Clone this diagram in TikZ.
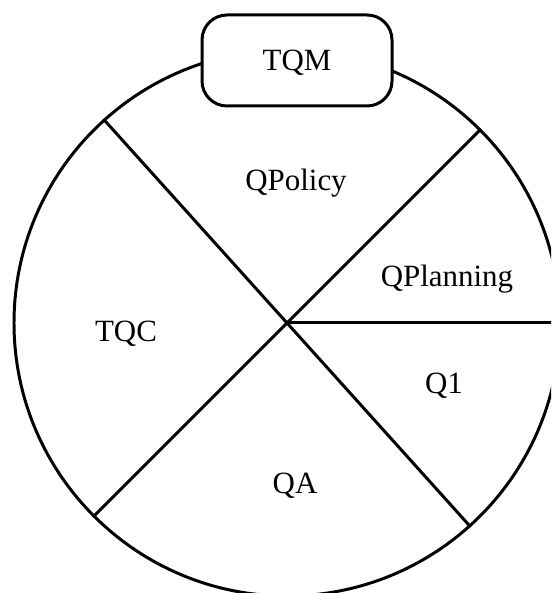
\documentclass[tikz,border=0pt]{standalone}
\usepackage{fontspec}
\setmainfont{Liberation Serif}
\usepackage{tikz}

\begin{document}
\begin{tikzpicture}[line width=.85pt,
    lbl/.style={font=\fontsize{8.8}{10}\selectfont, text height=5.8pt, text depth=0pt, inner sep=0pt}]
    \useasboundingbox (0,0) rectangle (5.51,5.93);
    \clip (0,0) rectangle (5.51,5.93);

    \coordinate (c) at (2.87,2.70);
    \node[draw,circle,minimum size=5.46cm,inner sep=0pt] (wheel) at (c) {};
    \draw (wheel.132.4) -- (wheel.312.4);
    \draw (wheel.45) -- (wheel.225);
    \draw (c) -- (wheel.0);

    \node[draw,fill=white,rounded corners=.25cm,minimum width=1.9cm,minimum height=.91cm,lbl] (tqm) at (2.97,5.325) {TQM};

    \node[lbl] (policy) at (2.96,4.13) {QPolicy};
    \node[lbl] (planning) at (4.47,3.17) {QPlanning};
    \node[lbl] (qone) at (4.44,2.10) {Q1};
    \node[lbl] (tqc) at (1.26,2.62) {TQC};
    \node[lbl] (qa) at (2.95,1.10) {QA};
\end{tikzpicture}
\end{document}
